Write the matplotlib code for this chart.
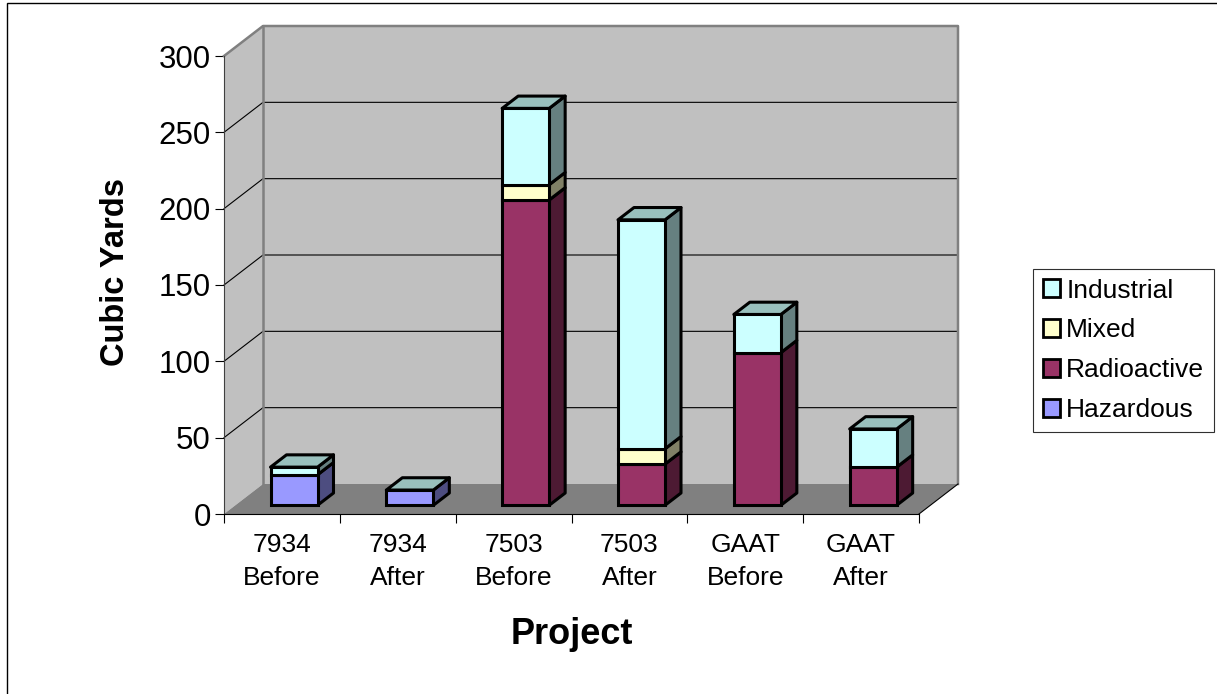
import matplotlib
matplotlib.use("Agg")
import matplotlib.pyplot as plt
from matplotlib.patches import Rectangle

plt.rcParams["font.family"] = ["Liberation Sans", "DejaVu Sans"]

# -------------------------------
# DATA
# -------------------------------
projects = ["7934\nBefore", "7934\nAfter", "7503\nBefore", "7503\nAfter", "GAAT\nBefore", "GAAT\nAfter"]
hazardous = [20, 10, 0, 0, 0, 0]
radioactive = [0, 0, 200, 27, 100, 25]
mixed = [0, 0, 10, 10, 0, 0]
industrial = [5, 0, 50, 150, 25, 25]
y_ticks = [0, 50, 100, 150, 200, 250, 300]

# stacking order is bottom to top: name, front colour, side colour
series = [
    ("Hazardous", hazardous, "#9999FF", "#4D4D80"),
    ("Radioactive", radioactive, "#993366", "#4D1A33"),
    ("Mixed", mixed, "#FFFFCC", "#808066"),
    ("Industrial", industrial, "#CCFFFF", "#668080"),
]
top_colour = "#99C0BD"

W, H = 1217, 694
fig = plt.figure(figsize=(W / 100, H / 100), dpi=100)
fig.patch.set_facecolor("white")

# outer frame of the chart area, only its top and left edges fall inside the image
fig.add_artist(Rectangle((7 / W, 1 - 720 / H), 1300 / W, 717 / H, transform=fig.transFigure,
                         fill=False, ec="black", lw=1.0))

# front plane of the plot box
left, right, bottom, top = 224, 919, 514, 56
ax = fig.add_axes([left / W, 1 - bottom / H, (right - left) / W, (bottom - top) / H])
ax.set_xlim(0, 6)
ax.set_ylim(0, 300)
ax.patch.set_visible(False)

px_x = 6 / (right - left)
px_y = 300 / (bottom - top)
depth_x = 39 * px_x
depth_y = 30 * px_y


def at_depth(x, y, d):
    # shift a data point towards the back wall, d=0 front, d=1 back
    return x + d * depth_x, y + d * depth_y


def face(points, colour, ec="none", lw=0.0, z=1):
    xs = [p[0] for p in points]
    ys = [p[1] for p in points]
    ax.fill(xs, ys, fc=colour, ec=ec, lw=lw, zorder=z, clip_on=False, joinstyle="round")


# -------------------------------
# WALLS AND FLOOR
# -------------------------------
face([at_depth(0, 0, 1), at_depth(6, 0, 1), at_depth(6, 300, 1), at_depth(0, 300, 1)], "#C0C0C0")
face([at_depth(0, 0, 0), at_depth(0, 0, 1), at_depth(0, 300, 1), at_depth(0, 300, 0)], "#C0C0C0")
face([at_depth(0, 0, 0), at_depth(6, 0, 0), at_depth(6, 0, 1), at_depth(0, 0, 1)], "#808080")

for v in y_ticks[1:-1]:
    a = at_depth(0, v, 0)
    b = at_depth(0, v, 1)
    c = at_depth(6, v, 1)
    ax.plot([a[0], b[0], c[0]], [a[1], b[1], c[1]], color="black", lw=0.8, zorder=2, clip_on=False)

# grey wall edges
a, b, c, d = at_depth(0, 300, 0), at_depth(0, 300, 1), at_depth(6, 300, 1), at_depth(6, 0, 1)
ax.plot([a[0], b[0], c[0], d[0]], [a[1], b[1], c[1], d[1]], color="#808080", lw=1.8, zorder=3, clip_on=False)
e = at_depth(0, 0, 1)
ax.plot([b[0], e[0]], [b[1], e[1]], color="#808080", lw=1.8, zorder=3, clip_on=False)

f, g = at_depth(6, 0, 0), at_depth(6, 0, 1)
ax.plot([f[0], g[0]], [f[1], g[1]], color="black", lw=0.8, zorder=3, clip_on=False)

# -------------------------------
# STACKED BARS
# -------------------------------
bar_width = 47 * px_x
d_front = 0.31
d_back = 0.72
bar_drop = 0.4  # bars stand a touch lower on the floor
edge = 2.2

for i in range(len(projects)):
    x0 = i + 0.5 - bar_width / 2
    x1 = i + 0.5 + bar_width / 2
    base = 0
    for name, values, colour, side in series:
        v = values[i]
        if v == 0:
            continue
        y0 = base - bar_drop
        y1 = base + v - bar_drop
        face([at_depth(x1, y0, d_front), at_depth(x1, y0, d_back),
              at_depth(x1, y1, d_back), at_depth(x1, y1, d_front)],
             side, "black", edge, 5)
        fx, fy = at_depth(x0, y0, d_front)
        ax.bar(fx, v, bar_width, bottom=fy, align="edge", color=colour, edgecolor="black",
               linewidth=edge, zorder=6, clip_on=False)
        base += v
    y1 = base - bar_drop
    face([at_depth(x0, y1, d_front), at_depth(x1, y1, d_front),
          at_depth(x1, y1, d_back), at_depth(x0, y1, d_back)],
         top_colour, "black", edge, 5)

# -------------------------------
# AXES
# -------------------------------
for name in ["top", "right"]:
    ax.spines[name].set_visible(False)
ax.spines["left"].set_color("#404040")
ax.spines["left"].set_zorder(4)
ax.spines["bottom"].set_zorder(4)

ax.set_yticks(y_ticks)
ax.tick_params(axis="y", labelsize=22.5, length=6.5, width=0.8, pad=3)
ax.set_xticks(range(7))
ax.set_xticklabels([])
ax.set_xticks([i + 0.5 for i in range(6)], minor=True)
ax.set_xticklabels(projects, minor=True, fontsize=19, linespacing=1.5)
ax.tick_params(axis="x", which="major", length=6.5, width=0.8)
ax.tick_params(axis="x", which="minor", length=0, pad=13.5)

ax.set_xlabel("Project", fontsize=26, fontweight="bold")
ax.xaxis.set_label_coords(0.5, -0.225, transform=ax.transAxes)
ax.set_ylabel("Cubic Yards", fontsize=23.5, fontweight="bold")
ax.yaxis.set_label_coords(-0.134, 0.528, transform=ax.transAxes)

# -------------------------------
# LEGEND
# -------------------------------
handles = [Rectangle((0, 0), 1, 1, fc=s[2], ec="black", lw=2.0) for s in reversed(series)]
leg = fig.legend(handles, [s[0] for s in reversed(series)], loc="upper left",
                 bbox_to_anchor=(1033 / W, 1 - 269 / H), bbox_transform=fig.transFigure,
                 fontsize=19, frameon=True, fancybox=False, edgecolor="#303030", framealpha=1,
                 borderpad=0.36, labelspacing=0.6, handlelength=0.66, handleheight=0.66,
                 handletextpad=0.24, borderaxespad=0)
leg.get_frame().set_linewidth(0.8)

plt.savefig("out.png", dpi=100)
plt.close()
